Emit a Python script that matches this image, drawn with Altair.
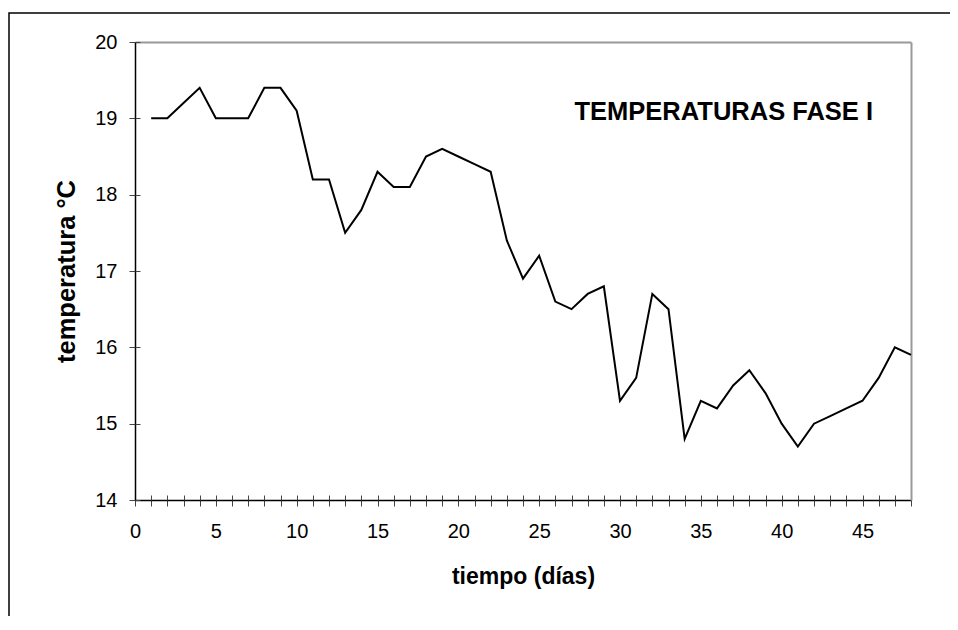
import altair as alt
import pandas as pd

# ---- data ----
days = list(range(1, 49))
temps = [19.0, 19.0, 19.2, 19.4, 19.0, 19.0, 19.0, 19.4, 19.4, 19.1,
         18.2, 18.2, 17.5, 17.8, 18.3, 18.1, 18.1, 18.5, 18.6, 18.5,
         18.4, 18.3, 17.4, 16.9, 17.2, 16.6, 16.5, 16.7, 16.8, 15.3,
         15.6, 16.7, 16.5, 14.8, 15.3, 15.2, 15.5, 15.7, 15.4, 15.0,
         14.7, 15.0, 15.1, 15.2, 15.3, 15.6, 16.0, 15.9]
x_ticks = list(range(0, 49))
y_ticks = list(range(14, 21))
x_domain = [0, 48]
y_domain = [14, 20]
chart_title = ["TEMPERATURAS FASE I"]
x_title = "tiempo (días)"
y_title = "temperatura °C"

FONT = "Liberation Sans, Arial, sans-serif"
W, H = 776, 458

df = pd.DataFrame({"dia": days, "temp": temps})
xs = alt.Scale(domain=x_domain, nice=False, zero=False)
ys = alt.Scale(domain=y_domain, nice=False, zero=False)

base = alt.Chart(df)

line = base.mark_line(color="black", strokeWidth=2).encode(
    x=alt.X("dia:Q", scale=xs, axis=alt.Axis(
        orient="bottom", values=x_ticks, format="d",
        labelExpr="datum.value % 5 === 0 ? datum.label : ''",
        title=x_title, tickSize=6, tickColor="#444", tickWidth=1,
        domainColor="black", domainWidth=1.5, grid=False,
        labelFontSize=20, labelFont=FONT, labelColor="black", labelPadding=15,
        labelFlush=False, labelOverlap=False,
        titleFontSize=23, titleFont=FONT, titleFontWeight="bold",
        titleColor="black", titlePadding=24)),
    y=alt.Y("temp:Q", scale=ys, axis=alt.Axis(
        orient="left", values=y_ticks, format="d",
        title=y_title, tickSize=6, tickColor="#444", tickWidth=1,
        domainColor="black", domainWidth=1.5, grid=False,
        labelFontSize=20, labelFont=FONT, labelColor="black", labelPadding=12,
        labelFlush=False, labelOverlap=False,
        titleFontSize=25.5, titleFont=FONT, titleFontWeight="bold",
        titleColor="black", titlePadding=15)),
)

inner = base.mark_line(opacity=0).encode(
    x=alt.X("dia:Q", scale=xs, axis=alt.Axis(
        orient="bottom", offset=-5, values=x_ticks, tickSize=5,
        tickColor="#444", domain=False, labels=False, title=None, grid=False)),
    y=alt.Y("temp:Q", scale=ys, axis=alt.Axis(
        orient="left", offset=-5, values=y_ticks, tickSize=5,
        tickColor="#444", domain=False, labels=False, title=None, grid=False)),
)

border = base.mark_line(opacity=0).encode(
    x=alt.X("dia:Q", scale=xs, axis=alt.Axis(
        orient="top", ticks=False, labels=False, title=None, grid=False,
        domainColor="#999", domainWidth=2)),
    y=alt.Y("temp:Q", scale=ys, axis=alt.Axis(
        orient="right", ticks=False, labels=False, title=None, grid=False,
        domainColor="#999", domainWidth=2)),
)

frame = alt.Chart(pd.DataFrame({"k": [0]})).mark_rect(
    fillOpacity=0, stroke="black", strokeWidth=1.5
).encode(
    x=alt.value(-126), x2=alt.value(W + 200),
    y=alt.value(-29), y2=alt.value(H + 300),
)

title = alt.Chart(pd.DataFrame({"t": chart_title})).mark_text(
    align="right", baseline="alphabetic", fontSize=25.5, fontWeight="bold",
    font=FONT, color="black"
).encode(x=alt.value(738), y=alt.value(78), text="t:N")

chart = alt.layer(frame, line, inner, border, title).resolve_axis(
    x="independent", y="independent"
).properties(
    width=W, height=H,
    padding={"left": 127, "top": 34, "right": 39, "bottom": 116},
    autosize=alt.AutoSizeParams(type="none"),
).configure_view(stroke="transparent")

chart.save("out.html", embed_options={"renderer": "svg", "actions": False})
